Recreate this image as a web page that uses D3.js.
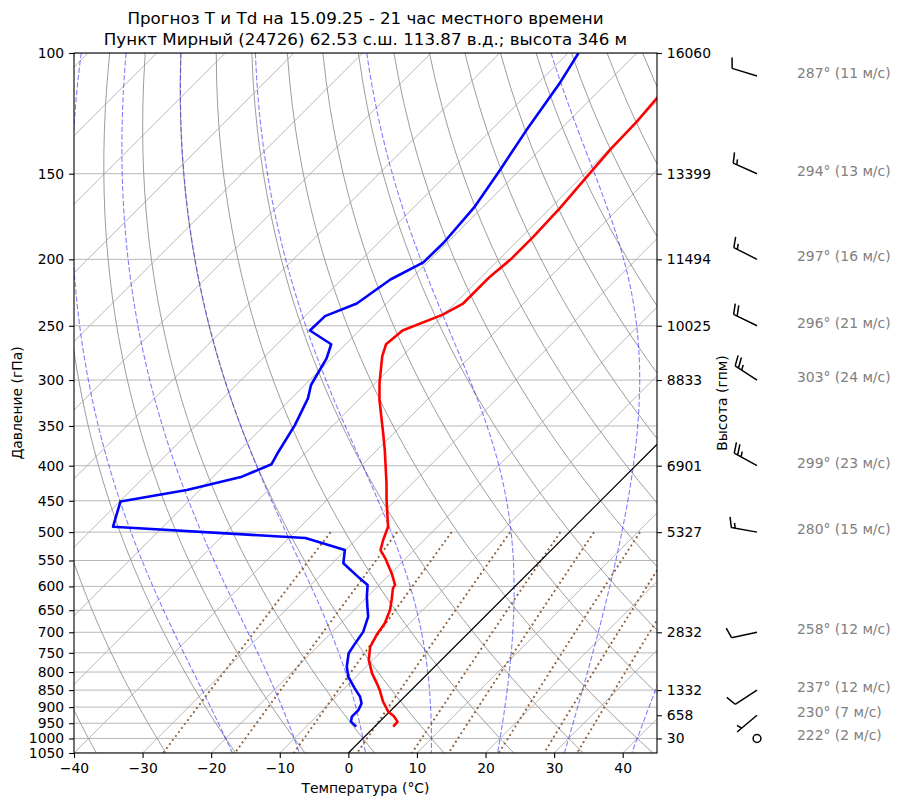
<!DOCTYPE html>
<html>
<head>
<meta charset="utf-8">
<script src="https://cdn.jsdelivr.net/npm/d3@7/dist/d3.min.js"></script>
<style>
  body { margin: 0; background: #fff; }
  text { font-family: "DejaVu Sans", sans-serif; }
</style>
</head>
<body>
<script>
// sounding: temperature (hPa, °C)
const tempLevels = [961, 945, 927, 914, 884, 850, 831, 803, 768, 735, 706, 679, 649, 628, 604, 597, 574, 546, 531, 513, 491, 449, 424, 380, 359, 321, 303, 277, 266, 254, 241, 232, 212, 200, 185, 168, 150, 138, 126, 116, 100];
const tempValues = [2.7, 2.6, 1.2, -0.2, -2.4, -4.6, -6.0, -8.2, -10.6, -12.3, -13.1, -13.6, -14.8, -16.0, -17.5, -17.7, -19.9, -23.0, -24.9, -26.0, -27.2, -31.3, -33.8, -38.8, -41.5, -46.9, -49.4, -52.9, -54.1, -53.7, -50.2, -48.8, -48.8, -48.3, -48.3, -48.6, -49.3, -49.8, -50.0, -50.5, -51.0];

// sounding: dew point (hPa, °C)
const dewLevels = [961, 945, 929, 909, 889, 869, 845, 813, 786, 751, 726, 699, 664, 639, 621, 597, 584, 555, 531, 510, 491, 451, 434, 415, 398, 382, 349, 319, 305, 279, 266, 254, 242, 232, 214, 202, 189, 168, 148, 130, 111, 100];
const dewValues = [-2.7, -4.2, -4.8, -4.8, -5.3, -6.5, -8.5, -11.1, -12.8, -14.5, -15.0, -15.5, -17.0, -18.8, -20.1, -21.7, -23.8, -28.4, -30.1, -37.6, -67.3, -69.9, -61.9, -55.8, -53.3, -54.1, -55.6, -57.6, -59.1, -60.7, -62.1, -67.2, -67.1, -64.3, -62.9, -60.6, -60.5, -61.2, -62.9, -64.8, -66.8, -68.5];

// axes
const pressureTicks = d3.range(100, 1051, 50);
const tempTicks = d3.range(-40, 41, 10);

// geopotential heights on the right axis
const heightLevels = [100, 150, 200, 250, 300, 400, 500, 700, 850, 925, 1000];
const heightValues = [16060, 13399, 11494, 10025, 8833, 6901, 5327, 2832, 1332, 658, 30];

// wind at the same levels
const windDirs = [287, 294, 297, 296, 303, 299, 280, 258, 237, 230, 222];
const windSpeeds = [11, 13, 16, 21, 24, 23, 15, 12, 12, 7, 2];

// background families
const isothermValues = d3.range(-160, 50, 10);
const dryT0 = d3.range(-40, 171, 10);
const moistT0 = [-20, -10, 0, 10, 20, 30, 40];
const mixingRatios = [0.0004, 0.001, 0.002, 0.004, 0.007, 0.01, 0.016, 0.024, 0.032];

const title1 = 'Прогноз T и Td на 15.09.25 - 21 час местного времени';
const title2 = 'Пункт Мирный (24726) 62.53 с.ш. 113.87 в.д.; высота 346 м';

// layout
const W = 900;
const H = 806;
const margin = { top: 53, left: 74, right: 243, bottom: 53 };
const width = W - margin.left - margin.right;
const height = H - margin.top - margin.bottom;

const svg = d3.select('body').append('svg')
  .attr('width', W)
  .attr('height', H)
  .style('font-family', '"DejaVu Sans", sans-serif');

const g = svg.append('g').attr('transform', `translate(${margin.left},${margin.top})`);

const xScale = d3.scaleLinear().domain([-40, 45]).range([0, width]);
const yScale = d3.scaleLog().domain([1050, 100]).range([height, 0]);

// skew-T: 45 degree skew in screen space
const skewX = (t, p) => xScale(t) + (height - yScale(p));

g.append('clipPath').attr('id', 'plot-clip')
  .append('rect').attr('width', width).attr('height', height);

const inner = g.append('g').attr('clip-path', 'url(#plot-clip)');

const line = d3.line().x(d => skewX(d.t, d.p)).y(d => yScale(d.p));

// grid: isobars
inner.append('g').selectAll('line').data(pressureTicks).enter().append('line')
  .attr('x1', 0).attr('x2', width)
  .attr('y1', d => yScale(d)).attr('y2', d => yScale(d))
  .attr('stroke', '#b0b0b0').attr('stroke-width', 0.9);

// grid: isotherms
inner.append('g').selectAll('path').data(isothermValues).enter().append('path')
  .attr('d', t => line([{ t, p: 1050 }, { t, p: 100 }]))
  .attr('fill', 'none').attr('stroke', '#b0b0b0').attr('stroke-width', 0.9);

// dry adiabats
const kappa = 0.285716;
const pSamples = d3.range(100, 1051, 10);
inner.append('g').selectAll('path').data(dryT0).enter().append('path')
  .attr('d', t0 => line(pSamples.map(p => ({ p, t: (t0 + 273.15) * Math.pow(p / 1000, kappa) - 273.15 }))))
  .attr('fill', 'none').attr('stroke', '#9c9c9c').attr('stroke-width', 1);

// moist adiabats
const Rd = 287.04749;
const Cp = 1004.6662;
const Lv = 2.50084e6;
const eps = 0.6219569;
const satVap = tk => 6.112 * Math.exp(17.67 * (tk - 273.15) / (tk - 29.65));
function moistRate(p, tk) {
  const es = satVap(tk);
  const rs = eps * es / (p - es);
  return (Rd * tk + Lv * rs) / (Cp + (Lv * Lv * rs * eps) / (Rd * tk * tk)) / p;
}
function integrate(t0, pEnd, n) {
  let p = 1000;
  let tk = t0 + 273.15;
  const out = [{ p, t: t0 }];
  const h = (pEnd - p) / n;
  for (let i = 0; i < n; i += 1) {
    const k1 = moistRate(p, tk);
    const k2 = moistRate(p + h / 2, tk + (h / 2) * k1);
    const k3 = moistRate(p + h / 2, tk + (h / 2) * k2);
    const k4 = moistRate(p + h, tk + h * k3);
    tk += (h / 6) * (k1 + 2 * k2 + 2 * k3 + k4);
    p += h;
    out.push({ p, t: tk - 273.15 });
  }
  return out;
}
const moistLine = t0 => integrate(t0, 100, 300).reverse().concat(integrate(t0, 1050, 20).slice(1));
inner.append('g').selectAll('path').data(moistT0).enter().append('path')
  .attr('d', t0 => line(moistLine(t0)))
  .attr('fill', 'none').attr('stroke', '#0000ff').attr('stroke-opacity', 0.5)
  .attr('stroke-width', 1.1).attr('stroke-dasharray', '5.2,2.2');

// mixing ratio lines, 500-1050 hPa
const mixPressures = d3.range(500, 1051, 10);
function dewFromMix(w, p) {
  const e = (w * p) / (eps + w);
  const a = Math.log(e / 6.112);
  return (243.5 * a) / (17.67 - a);
}
inner.append('g').selectAll('path').data(mixingRatios).enter().append('path')
  .attr('d', w => line(mixPressures.map(p => ({ p, t: dewFromMix(w, p) }))))
  .attr('fill', 'none').attr('stroke', '#8f5f3a').attr('stroke-width', 1.9)
  .attr('stroke-dasharray', '1.9,3.1');

// 0°C isotherm
inner.append('path')
  .attr('d', line([{ t: 0, p: 1050 }, { t: 0, p: 100 }]))
  .attr('stroke', '#000').attr('stroke-width', 1.1).attr('fill', 'none');

// profiles
const tempData = tempLevels.map((p, i) => ({ p, t: tempValues[i] }));
const dewData = dewLevels.map((p, i) => ({ p, t: dewValues[i] }));
inner.append('path').datum(tempData).attr('d', line)
  .attr('fill', 'none').attr('stroke', '#ff0000').attr('stroke-width', 2.6)
  .attr('stroke-linejoin', 'round').attr('stroke-linecap', 'butt');
inner.append('path').datum(dewData).attr('d', line)
  .attr('fill', 'none').attr('stroke', '#0000ff').attr('stroke-width', 2.6)
  .attr('stroke-linejoin', 'round').attr('stroke-linecap', 'butt');

// frame
g.append('rect').attr('width', width).attr('height', height)
  .attr('fill', 'none').attr('stroke', '#000').attr('stroke-width', 1.1);

// axes
const fontSize = 13.9;
const leftAxis = d3.axisLeft(yScale).tickValues(pressureTicks).tickFormat(d3.format('d'))
  .tickSize(4.9).tickPadding(4.9);
const bottomAxis = d3.axisBottom(xScale).tickValues(tempTicks).tickFormat(d3.format('d'))
  .tickSize(4.9).tickPadding(4.9);
const rightAxis = d3.axisRight(yScale).tickValues(heightLevels)
  .tickFormat(d => heightValues[heightLevels.indexOf(d)])
  .tickSize(4.9).tickPadding(4.9);

function styleAxis(sel) {
  sel.select('.domain').remove();
  sel.selectAll('.tick line').attr('stroke', '#000').attr('stroke-width', 1.1);
  sel.selectAll('.tick text').attr('fill', '#000')
    .style('font-size', `${fontSize}px`).style('font-family', '"DejaVu Sans", sans-serif');
}
g.append('g').call(leftAxis).call(styleAxis);
g.append('g').attr('transform', `translate(0,${height})`).call(bottomAxis).call(styleAxis);
g.append('g').attr('transform', `translate(${width},0)`).call(rightAxis).call(styleAxis);

// labels
svg.append('text').attr('x', margin.left + width / 2).attr('y', 24)
  .attr('text-anchor', 'middle').style('font-size', '16.7px').text(title1);
svg.append('text').attr('x', margin.left + width / 2).attr('y', 45)
  .attr('text-anchor', 'middle').style('font-size', '16.7px').text(title2);
svg.append('text').attr('x', margin.left + width / 2).attr('y', 793)
  .attr('text-anchor', 'middle').style('font-size', `${fontSize}px`).text('Температура (°C)');
svg.append('text')
  .attr('transform', `translate(22,${margin.top + height / 2}) rotate(-90)`)
  .attr('text-anchor', 'middle').style('font-size', `${fontSize}px`).text('Давление (гПа)');
svg.append('text')
  .attr('transform', `translate(727,${margin.top + height / 2}) rotate(-90)`)
  .attr('text-anchor', 'middle').style('font-size', `${fontSize}px`).text('Высота (гпм)');

// wind barbs (m/s): half = 5, full = 10, flag = 50
const barbX = 757;
const L = 26;
const barbY = p => Math.max(margin.top + yScale(p), margin.top + 23);
const winds = heightLevels.map((p, i) => ({ p, dir: windDirs[i], spd: windSpeeds[i] }));

function barbPath(spd) {
  const mag = 5 * Math.round(spd / 5);
  const nFlags = Math.floor(mag / 50);
  const nFull = Math.floor((mag % 50) / 10);
  const half = (mag % 10) >= 5;
  const fh = 0.4 * L;
  const fw = 0.25 * L;
  const sp = 0.15 * L;
  let d = `M0,0L0,${-L}`;
  let off = 0;
  for (let i = 0; i < nFlags; i += 1) {
    d += `M0,${-L + off}L${fh},${-L + off + fw / 2}L0,${-L + off + fw}`;
    off += fw + sp;
  }
  for (let i = 0; i < nFull; i += 1) {
    d += `M0,${-L + off}L${fh},${-L + off - fw / 2}`;
    off += sp;
  }
  if (half) {
    if (off === 0) off += 1.5 * sp;
    d += `M0,${-L + off}L${fh / 2},${-L + off - fw / 4}`;
  }
  return d;
}

const barbG = svg.append('g');
winds.forEach((w) => {
  const y = barbY(w.p);
  if (5 * Math.round(w.spd / 5) === 0) {
    barbG.append('circle').attr('cx', barbX).attr('cy', y).attr('r', 0.15 * L)
      .attr('fill', 'none').attr('stroke', '#000').attr('stroke-width', 1.5);
  } else {
    barbG.append('path')
      .attr('transform', `translate(${barbX},${y}) rotate(${w.dir})`)
      .attr('d', barbPath(w.spd))
      .attr('fill', 'none').attr('stroke', '#000').attr('stroke-width', 1.5)
      .attr('stroke-linejoin', 'miter');
  }
  barbG.append('text').attr('x', 797).attr('y', y + 2)
    .attr('fill', '#808080').style('font-size', `${fontSize}px`)
    .text(`${w.dir}° (${w.spd} м/с)`);
});
</script>
</body>
</html>
